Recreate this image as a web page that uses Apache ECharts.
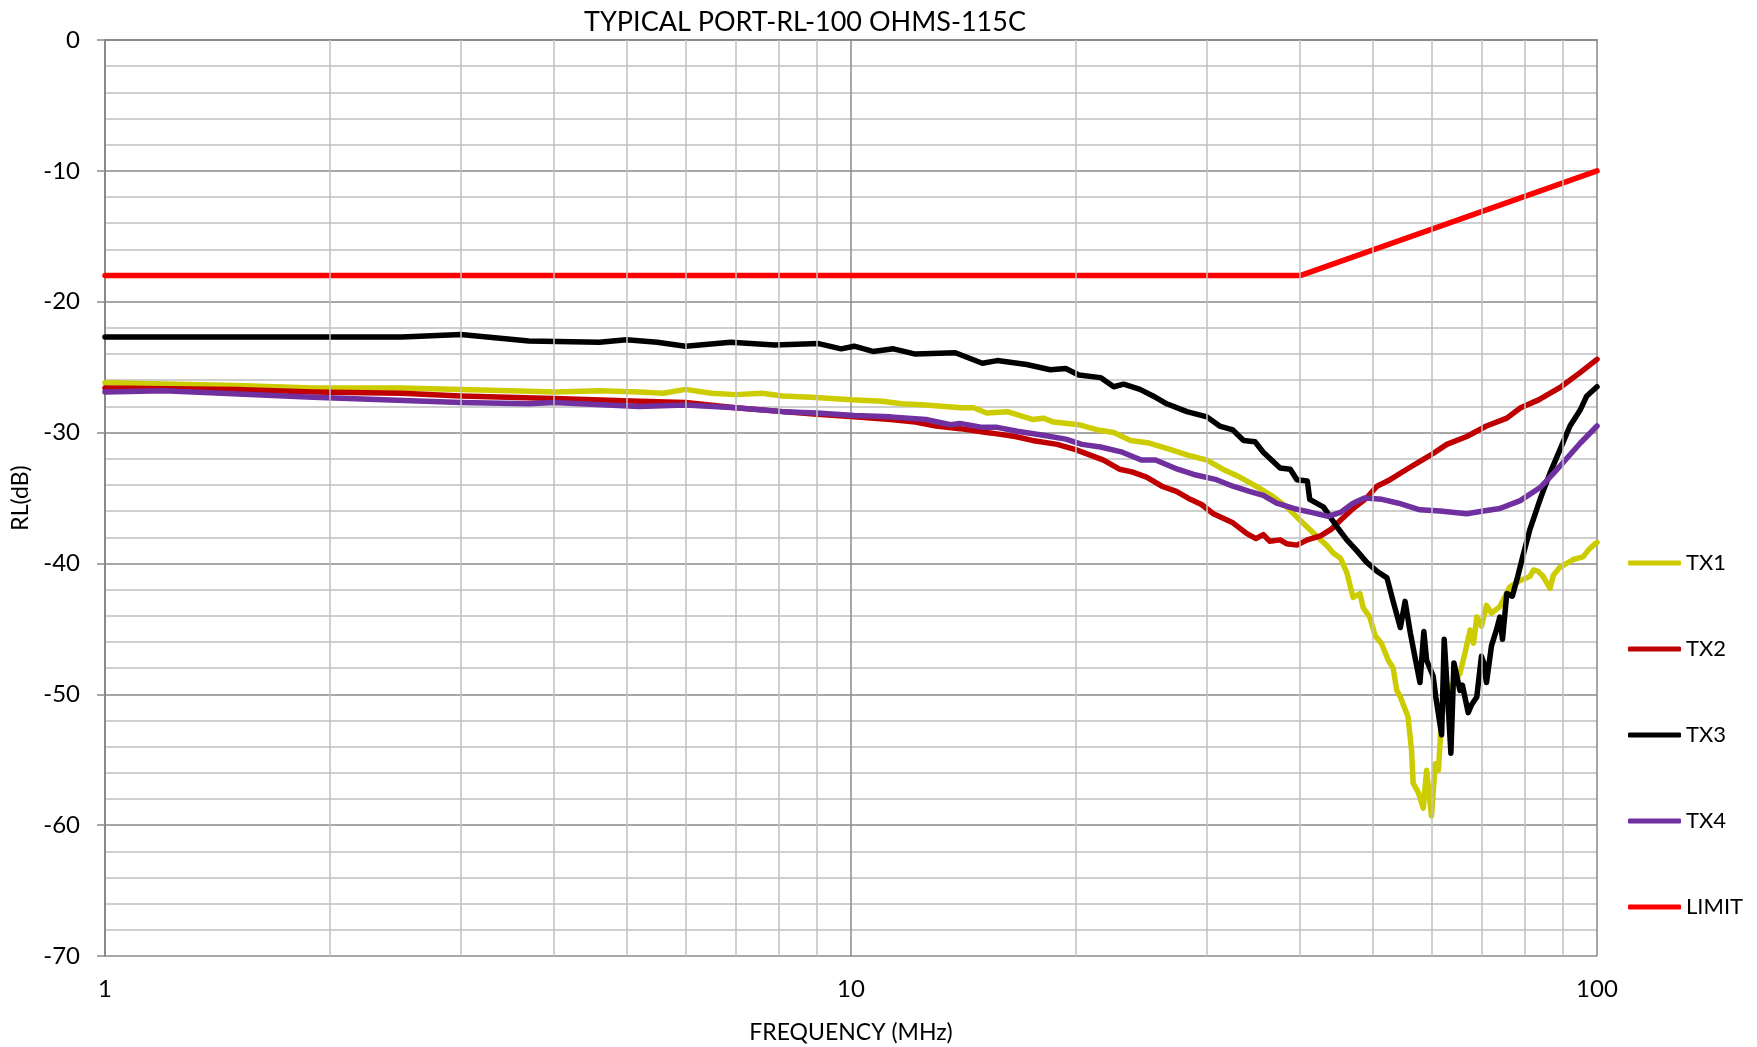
<!DOCTYPE html>
<html>
<head>
<meta charset="utf-8">
<script src="https://cdn.jsdelivr.net/npm/echarts@6/dist/echarts.min.js"></script>
<style>
html,body{margin:0;padding:0;background:#fff;}
#chart{width:1757px;height:1047px;}
</style>
</head>
<body>
<div id="chart"></div>
<script>
// ---- DATA ----
const titleText = 'TYPICAL PORT-RL-100 OHMS-115C';
const xAxisName = 'FREQUENCY (MHz)';
const yAxisName = 'RL(dB)';
const seriesNames = ['TX1', 'TX2', 'TX3', 'TX4', 'LIMIT'];
const minorFreqs = [2,3,4,5,6,7,8,9,20,30,40,50,60,70,80,90];

const tx1 = [[1,-26.2],[1.5,-26.4],[1.9,-26.6],[2.5,-26.6],[3,-26.7],[3.5,-26.8],[4,-26.9],[4.6,-26.8],[5.2,-26.9],[5.6,-27.0],[6.0,-26.7],[6.5,-27.0],[7.0,-27.1],[7.6,-27.0],[8.1,-27.2],[8.85,-27.3],[10,-27.5],[11,-27.6],[11.7,-27.8],[12.6,-27.9],[14.05,-28.1],[14.6,-28.1],[15.2,-28.5],[16.2,-28.4],[17.5,-29.0],[18.1,-28.9],[18.7,-29.2],[20.2,-29.4],[21.4,-29.8],[22.5,-30.0],[23.7,-30.6],[25.1,-30.8],[26.5,-31.2],[28.2,-31.7],[30,-32.1],[31.5,-32.8],[33.2,-33.4],[34.9,-34.1],[36.8,-34.9],[38.4,-35.7],[40,-36.7],[41.7,-37.7],[42.6,-38.2],[43.4,-38.6],[44.3,-39.2],[45.3,-39.6],[46.2,-40.7],[47.1,-42.6],[48.1,-42.3],[48.6,-43.4],[49.6,-44.1],[50.4,-45.5],[51.4,-46.1],[52.5,-47.4],[53.3,-48.0],[53.9,-49.7],[54.5,-50.2],[55.0,-50.8],[55.8,-51.7],[56.4,-54.2],[56.7,-56.8],[57.6,-57.5],[58.5,-58.7],[59.1,-55.8],[60.0,-59.3],[60.7,-55.3],[61.3,-55.8],[61.9,-51.7],[62.9,-49.9],[64.2,-49.1],[65.5,-48.4],[66.5,-46.9],[67.6,-45.1],[68.3,-46.1],[69.0,-44.1],[70.0,-44.8],[71.1,-43.2],[72.2,-43.8],[74.1,-43.3],[76.4,-41.8],[78.9,-41.3],[81.3,-41.0],[82.2,-40.5],[83.4,-40.6],[84.7,-41.0],[86.5,-41.9],[87.4,-40.9],[89.2,-40.3],[92.9,-39.7],[95.8,-39.5],[97.3,-39.0],[99.4,-38.5],[100,-38.4]];

const tx2 = [[1,-26.6],[1.5,-26.7],[1.9,-26.9],[2.5,-27.0],[3,-27.2],[4,-27.4],[5.2,-27.6],[6,-27.7],[7,-28.1],[8.1,-28.4],[9,-28.6],[10.1,-28.8],[11.3,-29.0],[12.2,-29.2],[13,-29.5],[14,-29.7],[15.2,-30.0],[15.7,-30.1],[16.6,-30.3],[17.5,-30.6],[18.9,-30.9],[20,-31.3],[21.1,-31.8],[21.8,-32.1],[22.9,-32.8],[23.8,-33.0],[24.9,-33.4],[26.1,-34.1],[27.3,-34.5],[28.5,-35.1],[29.5,-35.5],[30.6,-36.2],[32.5,-36.9],[33.9,-37.7],[34.9,-38.1],[35.7,-37.8],[36.4,-38.3],[37.6,-38.2],[38.4,-38.5],[39.6,-38.6],[40.9,-38.2],[42.6,-37.9],[44.0,-37.4],[45.3,-36.7],[47.1,-35.8],[49.1,-35.0],[50.7,-34.1],[52.8,-33.6],[55.6,-32.8],[57.9,-32.2],[60.3,-31.6],[62.9,-30.9],[66.9,-30.3],[71.1,-29.5],[75.7,-28.9],[79,-28.1],[83.5,-27.5],[89.5,-26.5],[95,-25.4],[100,-24.4]];

const tx3 = [[1,-22.7],[1.5,-22.7],[2,-22.7],[2.5,-22.7],[3,-22.5],[3.7,-23.0],[4.6,-23.1],[5,-22.9],[5.5,-23.1],[6.0,-23.4],[6.9,-23.1],[7.9,-23.3],[9.05,-23.2],[9.7,-23.6],[10.1,-23.4],[10.7,-23.8],[11.4,-23.6],[12.2,-24.0],[13.8,-23.9],[15.0,-24.7],[15.7,-24.5],[17.2,-24.8],[18.5,-25.2],[19.4,-25.1],[20.2,-25.6],[21.6,-25.8],[22.5,-26.5],[23.2,-26.3],[24.4,-26.7],[25.4,-27.2],[26.5,-27.8],[28.2,-28.4],[30,-28.8],[31.2,-29.5],[32.5,-29.8],[33.6,-30.6],[34.8,-30.7],[35.7,-31.5],[37.6,-32.7],[38.8,-32.8],[39.6,-33.6],[40.9,-33.7],[41.2,-35.1],[43.0,-35.7],[44.8,-37.2],[46.2,-38.2],[47.6,-39.0],[49.1,-39.9],[50.7,-40.6],[52.3,-41.1],[53.3,-42.9],[54.5,-44.9],[55.3,-42.9],[56.2,-45.3],[56.9,-46.9],[57.9,-49.1],[58.6,-45.2],[59.1,-47.4],[60.3,-48.6],[60.8,-50.2],[61.9,-53.1],[62.4,-45.8],[63.0,-49.7],[63.7,-54.5],[64.3,-47.6],[65.5,-49.7],[66.0,-49.3],[67.2,-51.4],[67.9,-50.8],[69.0,-50.2],[70.0,-47.1],[70.5,-47.6],[71.1,-49.1],[72.2,-46.3],[73.3,-45.1],[74.1,-44.1],[74.7,-45.8],[75.7,-42.3],[77.0,-42.5],[78.3,-41.0],[79.5,-39.5],[81.3,-37.4],[83.9,-35.1],[86.5,-33.1],[89.2,-31.3],[92.0,-29.5],[94.9,-28.3],[96.9,-27.2],[100,-26.5]];

const tx4 = [[1,-26.9],[1.2,-26.8],[1.9,-27.3],[3,-27.7],[3.7,-27.8],[4,-27.7],[5.2,-28.0],[6,-27.9],[7,-28.1],[8.1,-28.4],[9,-28.5],[10.1,-28.7],[11.3,-28.8],[12.6,-29.0],[13.6,-29.4],[14,-29.3],[15,-29.6],[15.7,-29.6],[16.7,-29.9],[18.1,-30.2],[19.4,-30.5],[20.4,-30.9],[21.6,-31.1],[23.1,-31.5],[24.5,-32.1],[25.6,-32.1],[27.4,-32.8],[28.8,-33.2],[30.9,-33.6],[32.5,-34.1],[34.2,-34.5],[35.7,-34.8],[37.2,-35.4],[39.2,-35.8],[41.4,-36.1],[43.6,-36.4],[45.3,-36.1],[47.1,-35.4],[48.8,-35.0],[51.5,-35.1],[54.2,-35.4],[57.9,-35.9],[61.6,-36.0],[66.9,-36.2],[70.4,-36.0],[74.1,-35.8],[78.9,-35.2],[83.9,-34.2],[87.5,-33.1],[91,-32.0],[95,-30.8],[100,-29.5]];

const limit = [[1,-18],[40,-18],[100,-10]];

const seriesData = [tx1, tx2, tx3, tx4, limit];
const seriesColors = ['#cccc00', '#c00000', '#000000', '#7030a0', '#ff0000'];

// ---- CHART ----
const FONT = 'Lato, "Liberation Sans", sans-serif';
const chart = echarts.init(document.getElementById('chart'), null, {renderer: 'canvas'});

const series = seriesNames.map((n, i) => ({
  name: n,
  type: 'line',
  data: seriesData[i],
  showSymbol: false,
  symbol: 'none',
  lineStyle: {color: seriesColors[i], width: 5.5, join: 'round', cap: 'round'},
  itemStyle: {color: seriesColors[i]},
  z: 3
}));

series.unshift({
  name: 'vgrid',
  type: 'line',
  data: [],
  z: 1,
  silent: true,
  markLine: {
    silent: true,
    symbol: 'none',
    animation: false,
    label: {show: false},
    emphasis: {disabled: true},
    lineStyle: {color: '#c0c0c0', width: 1.5, type: 'solid'},
    data: minorFreqs.map(f => ({xAxis: f}))
  }
});

chart.setOption({
  animation: false,
  backgroundColor: '#fff',
  title: {
    text: titleText,
    left: 800, top: 4,
    textAlign: 'center',
    textStyle: {fontFamily: FONT, fontSize: 27, fontWeight: 'normal', color: '#000'}
  },
  grid: {left: 105, top: 40, right: 160, bottom: 91, outerBoundsMode: 'none', containLabel: false},
  legend: {
    data: seriesNames,
    orient: 'vertical',
    left: 1623, top: 546,
    icon: 'roundRect',
    itemWidth: 53, itemHeight: 5,
    itemGap: 62,
    textStyle: {fontFamily: FONT, fontSize: 22, color: '#000', lineHeight: 24}
  },
  xAxis: {
    type: 'log', logBase: 10, min: 1, max: 100,
    name: xAxisName, nameLocation: 'middle', nameGap: 65,
    nameTextStyle: {fontFamily: FONT, fontSize: 23, color: '#000'},
    axisLine: {show: true, lineStyle: {color: '#8a8a8a', width: 2}},
    axisTick: {show: false},
    axisLabel: {fontFamily: FONT, fontSize: 24, color: '#000', margin: 21},
    splitLine: {show: true, lineStyle: {color: '#8a8a8a', width: 1.5}},
    minorSplitLine: {show: false}
  },
  yAxis: {
    type: 'value', min: -70, max: 0, interval: 10,
    name: yAxisName, nameLocation: 'middle', nameGap: 70, nameRotate: 90,
    nameTextStyle: {fontFamily: FONT, fontSize: 23, color: '#000'},
    axisLine: {show: true, lineStyle: {color: '#8a8a8a', width: 2}},
    axisTick: {show: true, length: 8, lineStyle: {color: '#8a8a8a', width: 1.5}},
    axisLabel: {fontFamily: FONT, fontSize: 24, color: '#000', margin: 25},
    splitLine: {show: true, lineStyle: {color: '#8a8a8a', width: 1.5}},
    minorTick: {show: false, splitNumber: 5},
    minorSplitLine: {show: true, lineStyle: {color: '#c0c0c0', width: 1.5}}
  },
  series: series
});
</script>
</body>
</html>
